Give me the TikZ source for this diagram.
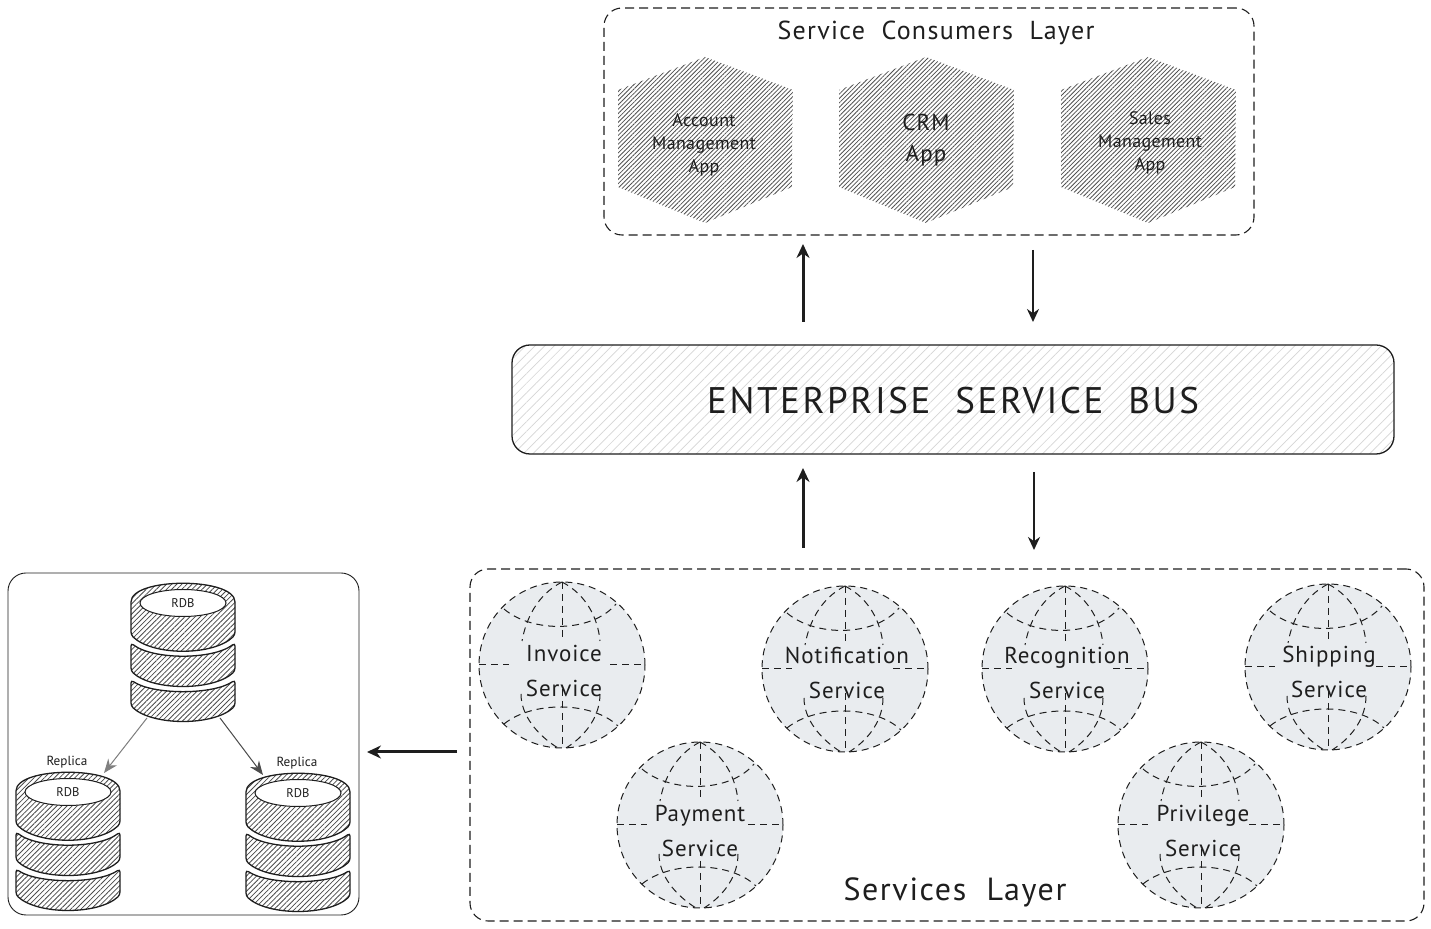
\documentclass[tikz,border=0pt]{standalone}
\usepackage{fontspec}
\setmainfont{PT Sans}
\usetikzlibrary{arrows.meta,patterns.meta,shapes.geometric}
\definecolor{ink}{HTML}{1E1E1E}
\definecolor{globefill}{HTML}{E9ECEF}
\newcommand{\sized}[2]{\fontsize{#1}{#2}\selectfont}
\newcommand{\mkhex}[7]{%
  % name, x, y, text x, text y, font, text
  \begin{scope}[shift={(#2,#3)}]
    \path[hexhatch] (0,-83) -- (88,-50) -- (87,47) -- (0,83) -- (-87,47) -- (-87,-50) -- cycle;
  \end{scope}
  \node[hextext,#6] (#1) at (#4,#5) {#7};}
\newcommand{\mkglobe}[6]{%
  % name, x, y, text x, text y, first word
  \node[globe] (#1) at (#2,#3) {};
  \begin{scope}[shift={(#2,#3)},gridline]
    \draw (-83,0) -- (-53,0);
    \draw (48,0) -- (83,0);
    \draw (0,-83) -- (0,-24);
    \draw (0,24) -- (0,83);
    \draw (0,-83) .. controls (-25,-70) and (-36,-46) .. (-40,-24);
    \draw (0,-83) .. controls (25,-70) and (36,-46) .. (38,-24);
    \draw (-41,29) .. controls (-41,50) and (-25,70) .. (-4,83);
    \draw (38,29) .. controls (38,50) and (25,70) .. (4,83);
    \draw (-58,-56) .. controls (-30,-32) and (30,-32) .. (54,-61);
    \draw (-58,59) .. controls (-30,36) and (30,36) .. (56,61);
  \end{scope}
  \node[globetext] (#1text) at (#4,#5) {#6\\Service};}
\newcommand{\mkdb}[3]{%
  % name, x, y (centre of the top ellipse)
  \begin{scope}[shift={(#2,#3)}]
    \draw[dbband] (-52,2) .. controls (-52,-26) and (52,-26) .. (52,2) -- (52,32) .. controls (30,53) and (-30,53) .. (-52,32) -- cycle;
    \draw[dbband] (-52,40) .. controls (-30,57) and (30,57) .. (52,40) -- (52,68) .. controls (30,88) and (-30,88) .. (-52,68) -- cycle;
    \draw[dbband] (-52,77) .. controls (-30,92) and (30,92) .. (52,77) -- (52,103) .. controls (30,123) and (-30,123) .. (-52,103) -- cycle;
  \end{scope}
  \node[dbtop] (#1) at (#2,#3) {RDB};}
\tikzset{
  hexhatch/.style={pattern={Lines[angle=45,distance=1.55pt,line width=.4pt]},pattern color=ink!78},
  hextext/.style={align=center,text=ink,inner sep=0pt},
  globe/.style={circle,draw=ink,fill=globefill,line width=.5pt,minimum size=83pt,inner sep=0pt,dash pattern=on 3.5pt off 2.5pt},
  gridline/.style={draw=ink,line width=.5pt,dash pattern=on 3.5pt off 2.5pt},
  globetext/.style={align=center,text=ink,inner sep=0pt,font=\sized{11.5}{17.5}\addfontfeatures{LetterSpace=4}},
  dbband/.style={draw=ink,line width=.65pt,rounded corners=1.5pt,pattern={Lines[angle=45,distance=1.8pt,line width=.4pt]},pattern color=ink!80},
  dbtop/.style={ellipse,draw=ink,fill=white,line width=.5pt,minimum width=43pt,minimum height=13.5pt,inner sep=0pt,font=\sized{6.3}{7},text=ink},
  dashbox/.style={draw=ink,line width=.55pt,rounded corners=9pt,dash pattern=on 4.5pt off 2.5pt},
  title/.style={text=ink,inner sep=0pt},
  flowthick/.style={draw=ink,line width=1.5pt,-{Stealth[length=7pt,width=6.5pt]}},
  flowthin/.style={draw=ink,line width=1.2pt,-{Stealth[length=6.5pt,width=6pt]}},
  replarrow/.style={line width=.5pt,-{Stealth[length=7pt,width=5.5pt]}},
  replabel/.style={text=ink,inner sep=0pt,font=\sized{6.6}{8}}
}
\begin{document}
\begin{tikzpicture}[x=0.5pt,y=-0.5pt]
\useasboundingbox (0,0) rectangle (1431,929);
\fill[white] (0,0) rectangle (1431,929);

% Service consumers layer
\node[dashbox,minimum width=325pt,minimum height=113.5pt,inner sep=0pt] (consumers) at (929,121.5) {};
\node[title,font=\sized{13}{16}\addfontfeatures{LetterSpace=5}] (consumerstitle) at (936,33) {Service~~Consumers~~Layer};
\mkhex{hexa}{705}{140}{704}{145}{font=\sized{9}{11.4}\addfontfeatures{LetterSpace=2}}{Account\\Management\\App}
\mkhex{hexb}{926}{140}{926}{140}{font=\sized{11.5}{15.5}\addfontfeatures{LetterSpace=5}}{CRM\\App}
\mkhex{hexc}{1148}{140}{1150}{143}{font=\sized{9}{11.4}\addfontfeatures{LetterSpace=2}}{Sales\\Management\\App}

% Enterprise service bus
\node[draw=ink,line width=.65pt,rounded corners=9pt,minimum width=441pt,minimum height=54.5pt,inner sep=0pt,
      pattern={Lines[angle=45,distance=3.4pt,line width=.35pt]},pattern color=black!16] (esb) at (953,399.5) {};
\node[title,font=\sized{18.5}{22}\addfontfeatures{LetterSpace=7}] (esbtitle) at (953,401) {ENTERPRISE~~SERVICE~~BUS};

% Services layer
\node[dashbox,minimum width=477pt,minimum height=176pt,inner sep=0pt] (services) at (947,745) {};
\node[title,font=\sized{16}{19}\addfontfeatures{LetterSpace=5}] (servicestitle) at (955,892) {Services~~Layer};
\mkglobe{invoice}{562}{665}{564}{671}{Invoice}
\mkglobe{notification}{845}{669}{847}{673}{Notification}
\mkglobe{recognition}{1065}{669}{1067}{673}{Recognition}
\mkglobe{shipping}{1328}{667}{1329}{672}{Shipping}
\mkglobe{payment}{700}{825}{700}{831}{Payment}
\mkglobe{privilege}{1201}{825}{1203}{831}{Privilege}

% Replicated database box
\node[draw=ink,line width=.45pt,rounded corners=9pt,minimum width=175.5pt,minimum height=171pt,inner sep=0pt] (dbbox) at (183.5,744) {};
\mkdb{dbmain}{183}{603}
\mkdb{dbleft}{68}{792}
\mkdb{dbright}{298}{793}
\node[replabel] (replleft) at (67,762) {Replica};
\node[replabel] (replright) at (297,763) {Replica};

% Connector end points
\coordinate (upAfrom) at (803,322);   \coordinate (upAto) at (803,244);
\coordinate (downAfrom) at (1033,250); \coordinate (downAto) at (1033,322);
\coordinate (upBfrom) at (803,548);   \coordinate (upBto) at (803,468);
\coordinate (downBfrom) at (1034,472); \coordinate (downBto) at (1034,550);
\coordinate (leftfrom) at (457,752);  \coordinate (leftto) at (367,752);
\coordinate (dbLfrom) at (147,718);   \coordinate (dbLto) at (104,773);
\coordinate (dbRfrom) at (220,718);   \coordinate (dbRto) at (263,775);

\draw[flowthick] (upAfrom) -- (upAto);
\draw[flowthin] (downAfrom) -- (downAto);
\draw[flowthick] (upBfrom) -- (upBto);
\draw[flowthin] (downBfrom) -- (downBto);
\draw[flowthick] (leftfrom) -- (leftto);
\draw[replarrow,draw=black!50,fill=black!50] (dbLfrom) -- (dbLto);
\draw[replarrow,draw=black!70,fill=black!70] (dbRfrom) -- (dbRto);
\end{tikzpicture}
\end{document}
